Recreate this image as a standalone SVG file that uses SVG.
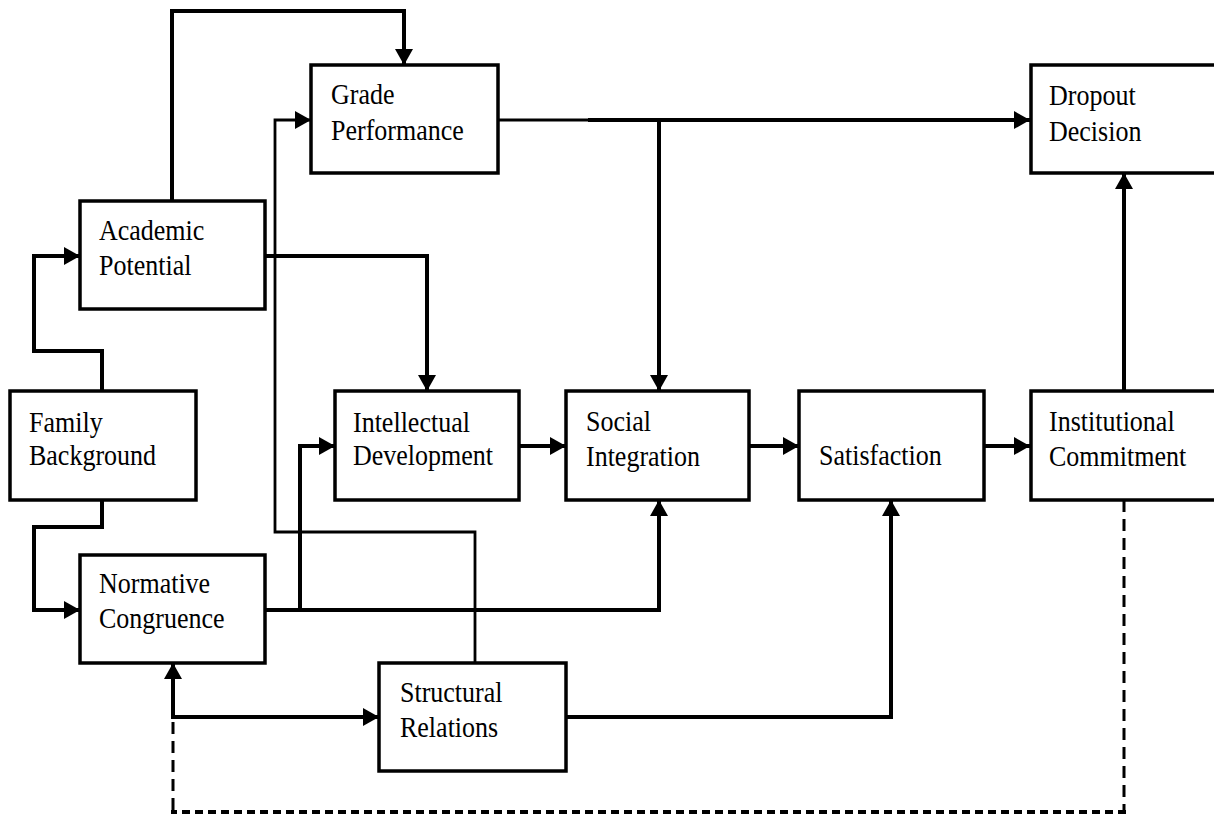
<svg xmlns="http://www.w3.org/2000/svg" width="1214" height="815" viewBox="0 0 1214 815">
  <defs>
    <marker id="arrow" viewBox="0 0 16 18" refX="16" refY="9" markerWidth="16" markerHeight="18" markerUnits="userSpaceOnUse" orient="auto">
      <path d="M0,0 L16,9 L0,18 z" fill="#000"/>
    </marker>
    <style>
      .box { fill: #fff; stroke: #000; stroke-width: 3.5; }
      .lbl { font-family: "Liberation Serif", "Times New Roman", serif; font-size: 26px; fill: #000; }
      .conn { fill: none; stroke: #000; stroke-width: 4; stroke-linejoin: miter; }
      .thin { fill: none; stroke: #000; stroke-width: 2.8; }
      .dash-v { fill: none; stroke: #000; stroke-width: 3; stroke-dasharray: 12 7; }
      .dash-h { fill: none; stroke: #000; stroke-width: 4; stroke-dasharray: 8 5; }
    </style>
  </defs>
  <rect width="1214" height="815" fill="#fff"/>

  <!-- connectors -->
  <g id="connectors">
    <path class="conn" d="M172,201 V11 H404 V65" marker-end="url(#arrow)"/>
    <path class="conn" d="M102,391 V351 H34 V256 H80" marker-end="url(#arrow)"/>
    <path class="conn" d="M102,500 V527 H34 V610 H80" marker-end="url(#arrow)"/>
    <path class="conn" d="M265,256 H427 V391" marker-end="url(#arrow)"/>
    <path class="thin" d="M475,663 V532 H275 V120 H311" marker-end="url(#arrow)"/>
    <path class="conn" d="M265,610 H659 V500" marker-end="url(#arrow)"/>
    <path class="conn" d="M300,610 V446 H335" marker-end="url(#arrow)"/>
    <path class="thin" d="M498,120 H590"/>
    <path class="conn" d="M588,120 H1030" marker-end="url(#arrow)"/>
    <path class="conn" d="M659,120 V391" marker-end="url(#arrow)"/>
    <path class="conn" d="M519,446 H566" marker-end="url(#arrow)"/>
    <path class="conn" d="M749,446 H799" marker-end="url(#arrow)"/>
    <path class="conn" d="M984,446 H1030" marker-end="url(#arrow)"/>
    <path class="conn" d="M1124,391 V173" marker-end="url(#arrow)"/>
    <path class="conn" d="M566,717 H891 V500" marker-end="url(#arrow)"/>
    <path class="conn" d="M173,717 H379" marker-end="url(#arrow)"/>
    <path class="conn" d="M173,719 V663" marker-end="url(#arrow)"/>
    <!-- feedback loop from commitment back to congruence -->
    <path class="dash-v" d="M1124,500 V810"/>
    <path class="dash-h" d="M1126,812 H171"/>
    <path class="dash-v" d="M173,810 V719"/>
  </g>

  <g id="grade-performance">
    <rect class="box" x="311" y="65" width="187" height="108"/>
    <text class="lbl" transform="translate(331,104) scale(1,1.12)">Grade</text>
    <text class="lbl" transform="translate(331,140) scale(1,1.12)">Performance</text>
  </g>
  <g id="dropout-decision">
    <rect class="box" x="1031" y="65" width="190" height="108"/>
    <text class="lbl" transform="translate(1049,105) scale(1,1.12)">Dropout</text>
    <text class="lbl" transform="translate(1049,141) scale(1,1.12)">Decision</text>
  </g>
  <g id="academic-potential">
    <rect class="box" x="80" y="201" width="185" height="108"/>
    <text class="lbl" transform="translate(99,240) scale(1,1.12)">Academic</text>
    <text class="lbl" transform="translate(99,275) scale(1,1.12)">Potential</text>
  </g>
  <g id="family-background">
    <rect class="box" x="10" y="391" width="186" height="109"/>
    <text class="lbl" transform="translate(29,432) scale(1,1.12)">Family</text>
    <text class="lbl" transform="translate(29,465) scale(1,1.12)">Background</text>
  </g>
  <g id="intellectual-development">
    <rect class="box" x="335" y="391" width="184" height="109"/>
    <text class="lbl" transform="translate(353,432) scale(1,1.12)">Intellectual</text>
    <text class="lbl" transform="translate(353,465) scale(1,1.12)">Development</text>
  </g>
  <g id="social-integration">
    <rect class="box" x="566" y="391" width="183" height="109"/>
    <text class="lbl" transform="translate(586,431) scale(1,1.12)">Social</text>
    <text class="lbl" transform="translate(586,466) scale(1,1.12)">Integration</text>
  </g>
  <g id="satisfaction">
    <rect class="box" x="799" y="391" width="185" height="109"/>
    <text class="lbl" transform="translate(819,465) scale(1,1.12)">Satisfaction</text>
  </g>
  <g id="institutional-commitment">
    <rect class="box" x="1031" y="391" width="190" height="109"/>
    <text class="lbl" transform="translate(1049,431) scale(1,1.12)">Institutional</text>
    <text class="lbl" transform="translate(1049,466) scale(1,1.12)">Commitment</text>
  </g>
  <g id="normative-congruence">
    <rect class="box" x="80" y="555" width="185" height="108"/>
    <text class="lbl" transform="translate(99,593) scale(1,1.12)">Normative</text>
    <text class="lbl" transform="translate(99,628) scale(1,1.12)">Congruence</text>
  </g>
  <g id="structural-relations">
    <rect class="box" x="379" y="663" width="187" height="108"/>
    <text class="lbl" transform="translate(400,702) scale(1,1.12)">Structural</text>
    <text class="lbl" transform="translate(400,737) scale(1,1.12)">Relations</text>
  </g>
</svg>
